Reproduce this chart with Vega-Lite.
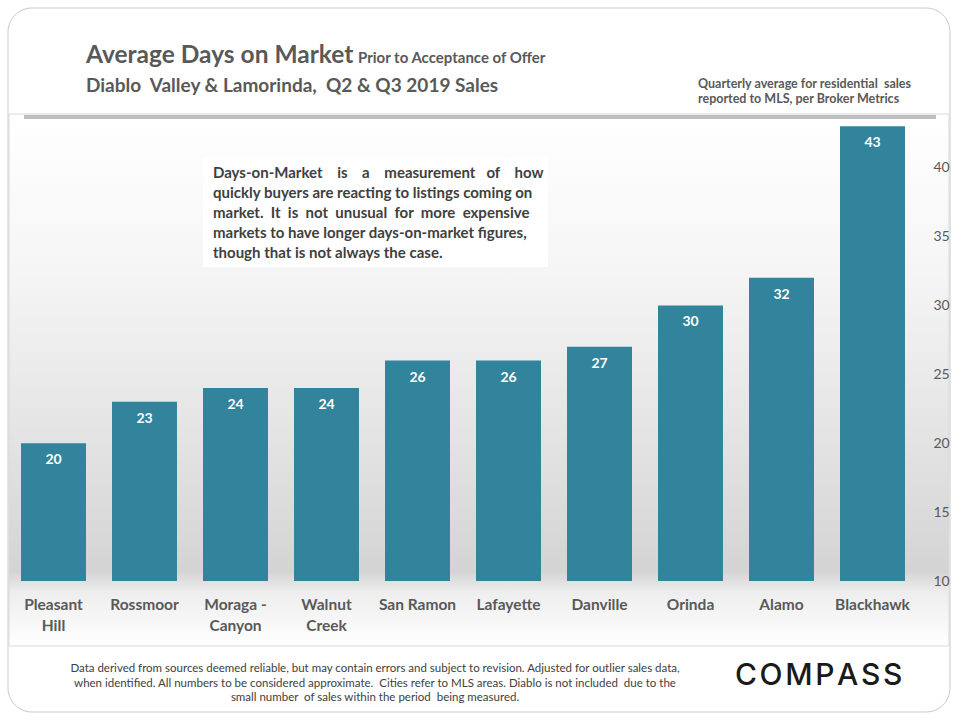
{
  "$schema": "https://vega.github.io/schema/vega-lite/v6.json",
  "width": 910,
  "height": 463,
  "autosize": {"type": "none"},
  "padding": {"left": 8, "top": 118, "right": 42, "bottom": 139},
  "background": "white",
  "config": {"view": {"stroke": null}, "font": "Lato"},
  "datasets": {
    "main": [
      {"city": "Pleasant Hill", "days": 20},
      {"city": "Rossmoor", "days": 23},
      {"city": "Moraga - Canyon", "days": 24},
      {"city": "Walnut Creek", "days": 24},
      {"city": "San Ramon", "days": 26},
      {"city": "Lafayette", "days": 26},
      {"city": "Danville", "days": 27},
      {"city": "Orinda", "days": 30},
      {"city": "Alamo", "days": 32},
      {"city": "Blackhawk", "days": 43}
    ],
    "one": [{"k": 1}]
  },
  "layer": [
    {
      "data": {"name": "one"},
      "mark": {"type": "rect", "fill": "white", "stroke": "#c9c9c9", "strokeWidth": 1, "cornerRadius": 24},
      "encoding": {"x": {"value": 0}, "x2": {"value": 942}, "y": {"value": -110}, "y2": {"value": 594}}
    },
    {
      "data": {"name": "one"},
      "mark": {
        "type": "rect",
        "stroke": "#d9d9d9",
        "strokeWidth": 1,
        "fill": {
          "gradient": "linear", "x1": 0, "y1": 0, "x2": 0, "y2": 1,
          "stops": [
            {"offset": 0, "color": "#ffffff"},
            {"offset": 0.3, "color": "#f5f5f5"},
            {"offset": 0.6, "color": "#e4e4e4"},
            {"offset": 0.86, "color": "#d4d4d4"},
            {"offset": 0.9, "color": "#eeeeee"},
            {"offset": 1, "color": "#ffffff"}
          ]
        }
      },
      "encoding": {"x": {"value": 1}, "x2": {"value": 941}, "y": {"value": -4}, "y2": {"value": 528}}
    },
    {
      "data": {"name": "one"},
      "mark": {"type": "rule", "stroke": "#bfbfbf", "strokeWidth": 4},
      "encoding": {"x": {"value": 16}, "x2": {"value": 928}, "y": {"value": -1}}
    },
    {
      "data": {"name": "main"},
      "mark": {"type": "bar", "color": "#31849b"},
      "encoding": {
        "x": {
          "field": "city", "type": "nominal", "sort": null,
          "scale": {"paddingInner": 0.286, "paddingOuter": 0.143},
          "axis": {
            "title": null, "domain": false, "ticks": false, "labelAngle": 0, "zindex": 2,
            "labelFont": "Lato", "labelFontWeight": "bold", "labelFontSize": 15.5,
            "labelColor": "#595959", "labelPadding": 16, "labelLineHeight": 21,
            "labelExpr": "datum.value == 'Pleasant Hill' ? ['Pleasant', 'Hill'] : datum.value == 'Moraga - Canyon' ? ['Moraga -', 'Canyon'] : datum.value == 'Walnut Creek' ? ['Walnut', 'Creek'] : datum.value"
          }
        },
        "y": {
          "field": "days", "type": "quantitative",
          "scale": {"domain": [10, 43.6], "zero": false, "nice": false},
          "axis": {
            "orient": "right", "title": null, "domain": false, "ticks": false, "grid": false, "zindex": 2,
            "values": [10, 15, 20, 25, 30, 35, 40],
            "labelFont": "Lato", "labelFontSize": 14, "labelColor": "#595959", "labelPadding": 15
          }
        },
        "y2": {"datum": 10}
      }
    },
    {
      "data": {"name": "main"},
      "mark": {"type": "text", "color": "white", "font": "Lato", "fontWeight": "bold", "fontSize": 14, "baseline": "middle", "dy": 17},
      "encoding": {
        "x": {"field": "city", "type": "nominal", "sort": null},
        "y": {"field": "days", "type": "quantitative"},
        "text": {"field": "days", "type": "quantitative"}
      }
    },
    {
      "data": {"name": "one"},
      "mark": {"type": "rect", "fill": "white"},
      "encoding": {"x": {"value": 195}, "x2": {"value": 540}, "y": {"value": 40}, "y2": {"value": 149}}
    },
    {
      "data": {"name": "one"},
      "mark": {"type": "text", "align": "left", "baseline": "alphabetic", "font": "Lato", "fontWeight": "bold", "fontSize": 15, "color": "#404040", "lineHeight": 20,
        "text": ["Days-on-Market\u00a0\u00a0\u00a0\u00a0is\u00a0\u00a0\u00a0\u00a0a\u00a0\u00a0\u00a0\u00a0measurement\u00a0\u00a0\u00a0of\u00a0\u00a0\u00a0\u00a0how", "quickly buyers are reacting to listings coming on", "market.\u00a0\u00a0It\u00a0\u00a0is\u00a0\u00a0not\u00a0\u00a0unusual\u00a0\u00a0for\u00a0\u00a0more\u00a0\u00a0expensive", "markets\u00a0to\u00a0have\u00a0longer\u00a0days-on-market\u00a0figures,", "though that is not always the case."]},
      "encoding": {"x": {"value": 205}, "y": {"value": 60}}
    },
    {
      "data": {"name": "one"},
      "mark": {"type": "text", "align": "left", "baseline": "alphabetic", "font": "Lato", "fontWeight": "bold", "fontSize": 24.5, "color": "#595959", "text": "Average Days on Market"},
      "encoding": {"x": {"value": 78}, "y": {"value": -55}}
    },
    {
      "data": {"name": "one"},
      "mark": {"type": "text", "align": "left", "baseline": "alphabetic", "font": "Lato", "fontWeight": "bold", "fontSize": 15, "color": "#595959", "text": "Prior to Acceptance of Offer"},
      "encoding": {"x": {"value": 350}, "y": {"value": -55}}
    },
    {
      "data": {"name": "one"},
      "mark": {"type": "text", "align": "left", "baseline": "alphabetic", "font": "Lato", "fontWeight": "bold", "fontSize": 19, "color": "#595959", "text": "Diablo\u00a0 Valley & Lamorinda,\u00a0 Q2 & Q3 2019 Sales"},
      "encoding": {"x": {"value": 78}, "y": {"value": -26}}
    },
    {
      "data": {"name": "one"},
      "mark": {"type": "text", "align": "left", "baseline": "alphabetic", "font": "Lato", "fontWeight": "bold", "fontSize": 12.5, "color": "#595959", "lineHeight": 15,
        "text": ["Quarterly average for residential\u00a0 sales", "reported to MLS, per Broker Metrics"]},
      "encoding": {"x": {"value": 690}, "y": {"value": -30}}
    },
    {
      "data": {"name": "one"},
      "mark": {"type": "text", "align": "center", "baseline": "alphabetic", "font": "Lato", "fontSize": 11.5, "color": "#404040", "lineHeight": 14.5,
        "text": ["Data derived from sources deemed reliable, but may contain errors and subject to revision. Adjusted for outlier sales data,", "when identified. All numbers to be considered approximate.\u00a0 Cities refer to MLS areas. Diablo is not included\u00a0 due to the", "small number\u00a0 of sales within the period\u00a0 being measured."]},
      "encoding": {"x": {"value": 367}, "y": {"value": 554}}
    },
    {
      "data": {"name": "one"},
      "mark": {"type": "text", "align": "left", "baseline": "alphabetic", "font": "Inter", "fontWeight": 500, "fontSize": 30, "color": "#1a1a1a", "text": "C\u200aO\u200aM\u200aP\u200aA\u200aS\u200aS"},
      "encoding": {"x": {"value": 727}, "y": {"value": 567}}
    }
  ]
}
